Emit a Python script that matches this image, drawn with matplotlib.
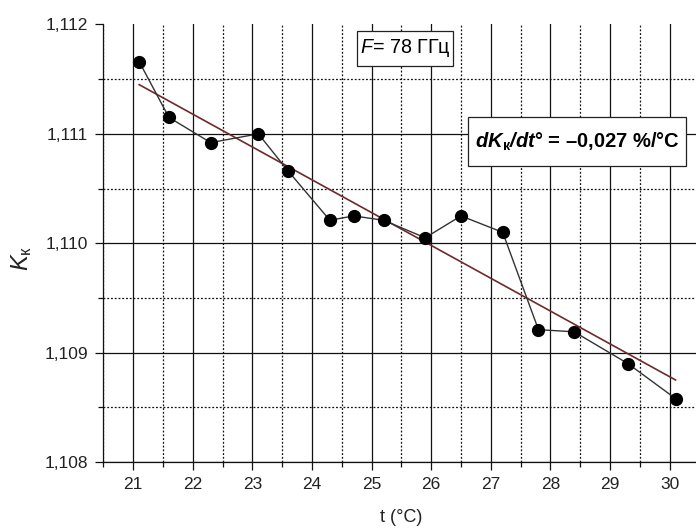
import matplotlib
matplotlib.use("Agg")
import matplotlib.pyplot as plt
from matplotlib import font_manager
from matplotlib.patches import Rectangle
from matplotlib.ticker import FixedLocator, FuncFormatter

# measured points, temperature vs K_k
temp = [21.1, 21.6, 22.3, 23.1, 23.6, 24.3, 24.7, 25.2, 25.9, 26.5, 27.2, 27.8, 28.4, 29.3, 30.1]
k_vals = [1.11166, 1.11115, 1.11092, 1.11100, 1.11066, 1.11021, 1.11025, 1.11021,
          1.11005, 1.11025, 1.11010, 1.10921, 1.10919, 1.10890, 1.10858]

# linear trend as drawn on the chart
fit_t = [21.1, 30.1]
fit_k = [1.11145, 1.10875]

x_major = [21, 22, 23, 24, 25, 26, 27, 28, 29, 30]
y_major = [1.108, 1.109, 1.110, 1.111, 1.112]

installed = {f.name for f in font_manager.fontManager.ttflist}
narrow = "Liberation Sans Narrow" in installed
box_font = "Liberation Sans Narrow" if narrow else "Liberation Sans"
# plain Liberation Sans is wider, so shrink the box text to keep the same width
f_size = 15.5 if narrow else 14.2
dk_size = 17 if narrow else 14.5

plt.rcParams["font.family"] = ["Liberation Sans", "DejaVu Sans"]
plt.rcParams["mathtext.fontset"] = "custom"
plt.rcParams["mathtext.rm"] = "Liberation Sans"
plt.rcParams["mathtext.it"] = "Liberation Sans:italic"
plt.rcParams["mathtext.bf"] = box_font + ":bold"
plt.rcParams["mathtext.bfit"] = box_font + ":italic:bold"

fig = plt.figure(figsize=(6.96, 5.29), dpi=100)
ax = fig.add_axes([0.1486, 0.1267, 0.8562, 0.827])

ax.set_xlim(20.5, 30.5)
ax.set_ylim(1.108, 1.112)

ax.xaxis.set_major_locator(FixedLocator(x_major))
ax.xaxis.set_minor_locator(FixedLocator([v + 0.5 for v in [20] + x_major]))
ax.yaxis.set_major_locator(FixedLocator(y_major))
ax.yaxis.set_minor_locator(FixedLocator([v + 0.0005 for v in y_major[:-1]]))
ax.yaxis.set_major_formatter(FuncFormatter(lambda v, p: f"{v:.3f}".replace(".", ",")))

ax.grid(which="major", color="#111111", linewidth=0.9, linestyle="-")
ax.grid(which="minor", color="#111111", linewidth=0.9, linestyle=(0, (1.5, 1.5)))
ax.set_axisbelow(True)

ax.tick_params(which="major", direction="out", length=6, width=0.9, pad=5,
               labelsize=12.5, labelcolor="#222222", color="#111111")
ax.tick_params(which="minor", direction="out", length=3.5, width=0.9, color="#111111")

for side in ["top", "right"]:
    ax.spines[side].set_visible(False)
for side in ["left", "bottom"]:
    ax.spines[side].set_linewidth(0.9)
    ax.spines[side].set_color("#111111")

# trend line and measurements
ax.plot(fit_t, fit_k, color="#6e2a2a", linewidth=1.2, zorder=3)
ax.plot(temp, k_vals, color="#333333", linewidth=1.0, marker="o",
        markersize=8.5, markerfacecolor="black", markeredgecolor="black", zorder=4)

ax.set_xlabel("t (°C)", fontsize=13, color="#222222", va="center")
ax.xaxis.set_label_coords(0.5, -0.128)
ax.set_ylabel(r"$K_{\mathrm{к}}$", fontsize=17, color="#222222", va="center", ha="center")
ax.yaxis.set_label_coords(-0.137, 0.466)

# framed labels: white boxes drawn in axes fractions, text centred inside
for x0, y0, w, h in [(0.4261, 0.9058, 0.1611, 0.0793), (0.6124, 0.6766, 0.3658, 0.1120)]:
    ax.add_patch(Rectangle((x0, y0), w, h, transform=ax.transAxes, facecolor="white",
                           edgecolor="#222222", linewidth=0.9, zorder=5, clip_on=False))

ax.text(0.5066, 0.9454, r"$F$= 78 ГГц", transform=ax.transAxes, fontsize=f_size,
        family=box_font, ha="center", va="center", zorder=6)
ax.text(0.7953, 0.7326, r"$\mathbfit{dK}_{\mathbf{к}}\mathbfit{/dt}$° = –0,027 %/°C",
        transform=ax.transAxes, fontsize=dk_size, family=box_font, fontweight="bold",
        ha="center", va="center", zorder=6)

fig.canvas.draw()
ax.yaxis.get_major_ticks()[-1].gridline.set_visible(False)

fig.savefig("out.png", dpi=100)
